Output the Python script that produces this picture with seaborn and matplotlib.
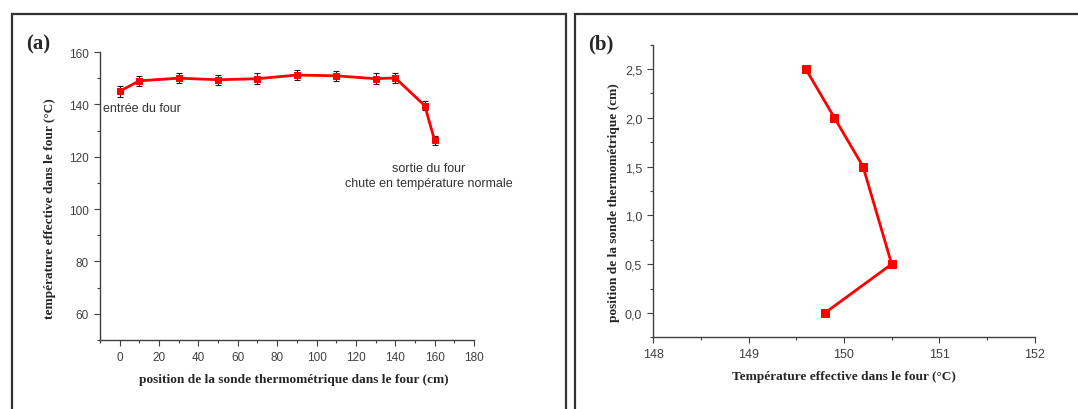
import numpy as np
import pandas as pd
import matplotlib
matplotlib.use("Agg")
import matplotlib.pyplot as plt
from matplotlib.patches import Rectangle
from matplotlib.ticker import MultipleLocator
import seaborn as sns

# panel (a): temperature along the oven
position_cm = [0, 10, 30, 50, 70, 90, 110, 130, 140, 155, 160]
temp_a = [145.0, 149.0, 150.0, 149.4, 149.8, 151.2, 150.9, 149.8, 150.1, 139.5, 126.2]
err_a = [2.0, 2.0, 2.0, 2.0, 2.0, 2.0, 2.0, 2.0, 2.0, 1.6, 1.8]

# panel (b): temperature across the probe height
depth_cm = [2.5, 2.0, 1.5, 0.5, 0.0]
temp_b = [149.6, 149.9, 150.2, 150.5, 149.8]
yticks_b = [0.0, 0.5, 1.0, 1.5, 2.0, 2.5]
yticklabels_b = ["0,0", "0,5", "1,0", "1,5", "2,0", "2,5"]
xticks_b = [148, 149, 150, 151, 152]

sns.set_style("ticks")
plt.rcParams['font.family'] = ['Liberation Sans', 'DejaVu Sans']
plt.rcParams['axes.edgecolor'] = '#404040'
plt.rcParams['xtick.color'] = '#404040'
plt.rcParams['ytick.color'] = '#404040'
plt.rcParams['axes.linewidth'] = 1.0

W, H = 1078, 410
fig = plt.figure(figsize=(W / 100, H / 100), dpi=100)
fig.patch.set_facecolor('white')

def frac(x0, y0, x1, y1):
    # pixel box (top-left origin) -> figure fraction rect
    return [x0 / W, 1 - y1 / H, (x1 - x0) / W, (y1 - y0) / H]

red = '#ff0000'
label_font = dict(family=['Liberation Serif', 'DejaVu Serif'], weight='bold', size=9.6)

# ---- panel (a)
axa = fig.add_axes(frac(100, 53, 474, 341))
dfa = pd.DataFrame({"pos": position_cm, "temp": temp_a})
axa.errorbar(position_cm, temp_a, yerr=err_a, fmt='none', ecolor='#202020',
             elinewidth=0.8, capsize=2.2, capthick=0.8, zorder=2)
sns.lineplot(data=dfa, x="pos", y="temp", ax=axa, color=red, linewidth=2.0,
             marker='s', markersize=5, markeredgecolor=red, zorder=3)
axa.set_xlim(-10, 180)
axa.set_ylim(50, 160)
axa.xaxis.set_major_locator(MultipleLocator(20))
axa.xaxis.set_minor_locator(MultipleLocator(10))
axa.yaxis.set_major_locator(MultipleLocator(20))
axa.yaxis.set_minor_locator(MultipleLocator(10))
axa.set_yticks([60, 80, 100, 120, 140, 160])
axa.tick_params(which='major', length=4.5, width=0.8, labelsize=8.5, labelcolor='#404040')
axa.tick_params(which='minor', length=2.5, width=0.8)
axa.set_xlabel("position de la sonde thermométrique dans le four (cm)", **label_font)
axa.set_ylabel("température effective dans le four (°C)", **label_font)
axa.xaxis.set_label_coords(0.519, -0.115)
axa.yaxis.set_label_coords(-0.118, 0.46)
axa.text(-8.3, 138.6, "entrée du four", fontsize=9, color='#333333', ha='left', va='center')
axa.text(156.9, 112.8, "sortie du four\nchute en température normale", fontsize=9,
         color='#333333', ha='center', va='center', multialignment='center',
         linespacing=1.25)
sns.despine(ax=axa)

# ---- panel (b)
axb = fig.add_axes(frac(653.3, 45.7, 1034.7, 338.3))
dfb = pd.DataFrame({"temp": temp_b, "depth": depth_cm})
sns.lineplot(data=dfb, x="temp", y="depth", ax=axb, sort=False, orient='y',
             color=red, linewidth=2.0, marker='s', markersize=5.5, markeredgecolor=red)
axb.set_xlim(148, 152)
axb.set_ylim(-0.25, 2.75)
axb.set_xticks(xticks_b)
axb.set_xticklabels([str(v) for v in xticks_b])
axb.xaxis.set_minor_locator(MultipleLocator(0.5))
axb.set_yticks(yticks_b)
axb.set_yticklabels(yticklabels_b)
axb.yaxis.set_minor_locator(MultipleLocator(0.25))
axb.tick_params(which='major', length=4.5, width=0.8, labelsize=9, labelcolor='#404040')
axb.tick_params(which='minor', length=2.5, width=0.8)
axb.set_xlabel("Température effective dans le four (°C)", **label_font)
axb.set_ylabel("position de la sonde thermométrique (cm)", **label_font)
axb.xaxis.set_label_coords(0.499, -0.112)
axb.yaxis.set_label_coords(-0.087, 0.464)
sns.despine(ax=axb)

# panel letters
fig.text(38 / W, 1 - 44 / H, "(a)", fontsize=15, fontweight='bold',
         family=['Liberation Serif', 'DejaVu Serif'], ha='center', va='center')
fig.text(601 / W, 1 - 44 / H, "(b)", fontsize=15, fontweight='bold',
         family=['Liberation Serif', 'DejaVu Serif'], ha='center', va='center')

# panel frames
for x0, x1 in [(12, 566), (574.5, 1090)]:
    fig.add_artist(Rectangle((x0 / W, -0.1), (x1 - x0) / W, 1 - 15 / H + 0.1,
                             transform=fig.transFigure, fill=False,
                             edgecolor='#333333', linewidth=1.6))

fig.savefig("out.png", dpi=100)
